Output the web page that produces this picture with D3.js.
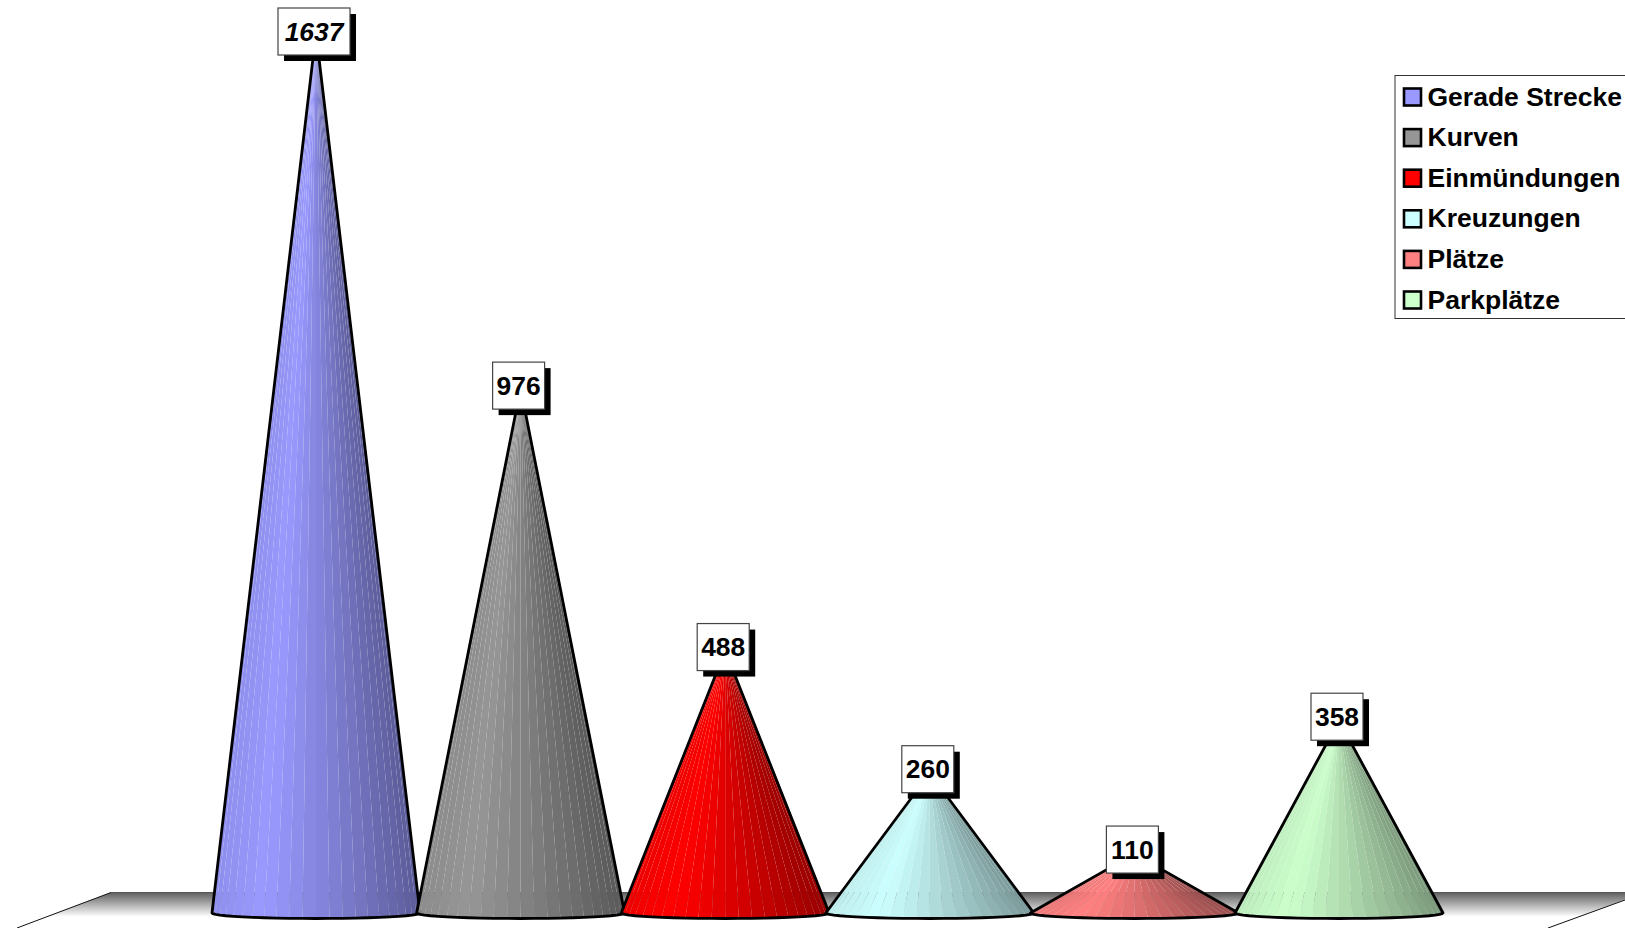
<!DOCTYPE html>
<html><head><meta charset="utf-8">
<script src="https://cdn.jsdelivr.net/npm/d3@7"></script>
<style>html,body{margin:0;padding:0;background:#fff;overflow:hidden}svg{display:block}text{font-family:"Liberation Sans",Arial,sans-serif;font-weight:bold;fill:#000}</style>
</head><body><svg id="c" width="1625" height="928"></svg>
<script>
const categories = ["Gerade Strecke","Kurven","Einmündungen","Kreuzungen","Plätze","Parkplätze"];
const values = [1637,976,488,260,110,358];
const colors = ["#9999FF","#969696","#FF0000","#CCFFFF","#FF8080","#CCFFCC"];
const labelItalic = [true,false,false,false,false,false];

const W=1625,H=928,baseY=913,topY=33;
const svg=d3.select("#c");
const x=d3.scalePoint().domain(categories).range([316,1339]);
const y=d3.scaleLinear().domain([0,1637]).range([baseY,topY]);
const yLabel=d3.scaleLinear().domain([0,1637]).range([baseY-5,topY-2]);
const R=104,RY=5.5,N=24;
const shade=d3.scaleLinear().domain([0,.25,.55,1]).range([.93,1,.85,.6]);

// floor
const defs=svg.append("defs");
const g=defs.append("linearGradient").attr("id","floor").attr("x1",0).attr("x2",0).attr("y1",0).attr("y2",1);
g.append("stop").attr("offset",0).attr("stop-color","#606060");
g.append("stop").attr("offset",.68).attr("stop-color","#fff");
const floorTop=892.5, floorBot=928;
svg.append("path").attr("fill","url(#floor)")
  .attr("d",d3.line()([[111,floorTop],[1644,floorTop],[1548,floorBot],[17,floorBot]]));
svg.append("path").attr("fill","none").attr("stroke","#111").attr("stroke-width",1)
  .attr("d",d3.line()([[17,floorBot],[111,floorTop]]));
svg.append("path").attr("fill","none").attr("stroke","#111").attr("stroke-width",1)
  .attr("d",d3.line()([[1548,floorBot],[1625,900]]));
svg.append("path").attr("fill","none").attr("stroke","#555").attr("stroke-width",1)
  .attr("d",d3.line()([[111,floorTop],[1644,floorTop]]));

// cones
const cones=svg.append("g").selectAll("g").data(categories).join("g");
cones.each(function(c,i){
  const cx=x(c), ty=y(values[i]), sel=d3.select(this);
  const base=d3.color(colors[i]);
  const th=d3.range(N+1).map(k=>Math.PI-k*Math.PI/N);
  const pts=th.map(a=>[cx+R*Math.cos(a),baseY+RY*Math.sin(a)]);
  sel.selectAll("path.f").data(d3.range(N)).join("path").attr("class","f")
    .attr("d",k=>d3.line()([[cx,ty],pts[k],pts[k+1]])+"Z")
    .attr("fill",k=>{
      const t=((pts[k][0]+pts[k+1][0])/2-(cx-R))/(2*R), s=shade(t);
      return d3.rgb(base.r*s,base.g*s,base.b*s).formatHex();
    });
  sel.append("path").attr("fill","none").attr("stroke","#000").attr("stroke-width",2.8).attr("stroke-linejoin","round")
    .attr("d",d3.line()([[cx,ty],...pts])+"Z");
});

// value labels
const labelW=v=>String(v).length>3?72:52;
const labels=svg.append("g").selectAll("g").data(categories).join("g")
  .attr("transform",(c,i)=>`translate(${x(c)-2},${yLabel(values[i])})`);
labels.append("rect").attr("x",(c,i)=>-labelW(values[i])/2+6).attr("y",-23+6)
  .attr("width",(c,i)=>labelW(values[i])).attr("height",47).attr("fill","#000");
labels.append("rect").attr("x",(c,i)=>-labelW(values[i])/2).attr("y",-23)
  .attr("width",(c,i)=>labelW(values[i])).attr("height",47).attr("fill","#fff").attr("stroke","#444").attr("stroke-width",1.2);
labels.append("text").attr("text-anchor","middle").attr("y",9.5).attr("font-size",26.4)
  .attr("font-style",(c,i)=>labelItalic[i]?"italic":"normal").text((c,i)=>values[i]);

// legend
svg.append("rect").attr("x",1395).attr("y",75.5).attr("width",260).attr("height",243).attr("fill","#fff").attr("stroke","#333").attr("stroke-width",1);
const ly=d3.scalePoint().domain(categories).range([97,300]);
const leg=svg.append("g").selectAll("g").data(categories).join("g").attr("transform",c=>`translate(0,${ly(c)})`);
leg.append("rect").attr("x",1404).attr("y",-8.5).attr("width",17).attr("height",17)
  .attr("fill",(c,i)=>colors[i]).attr("stroke","#000").attr("stroke-width",2.6);
leg.append("text").attr("x",1427.5).attr("y",8.5).attr("font-size",26.5).text(c=>c);
</script></body></html>
